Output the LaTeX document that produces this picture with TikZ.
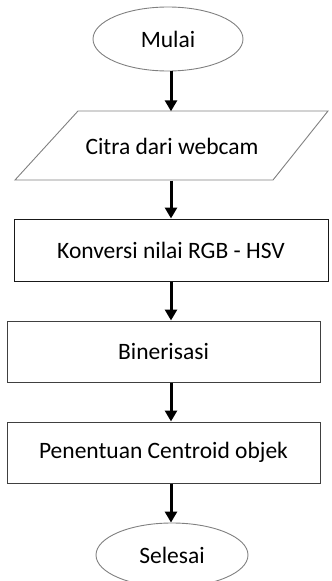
\documentclass[tikz,border=0pt]{standalone}
\usepackage{fontspec}
\setmainfont{Carlito}
\usetikzlibrary{arrows.meta,shapes.geometric}
\begin{document}
\begin{tikzpicture}[x=1pt,y=1pt,
  every node/.style={font=\fontsize{23.5}{28}\selectfont},
  term/.style={ellipse,draw=black!50,line width=0.9pt,inner sep=0pt,minimum width=150pt,minimum height=64pt},
  procbox/.style={rectangle,draw=black!75,line width=1pt,inner sep=0pt,minimum width=313pt,minimum height=61pt},
  iotext/.style={inner sep=0pt,minimum width=200pt,minimum height=69pt},
  arr/.style={line width=3pt,-{Triangle[width=12pt,length=11pt]}}]
\useasboundingbox (0,0) rectangle (332,-581);
\coordinate (ax) at (171,0);
\node[term] (mulai) at (168,-39) {Mulai};
\draw[draw=black!50,line width=0.9pt] (78,-111) -- (328,-111) -- (273,-180) -- (15,-180) -- cycle;
\node[iotext] (citra) at (172,-146) {Citra dari webcam};
\node[procbox,minimum width=314pt,minimum height=62pt,draw=black!90] (konv) at (171,-250) {Konversi nilai RGB - HSV};
\node[procbox] (bin) at (163.5,-351.5) {Binerisasi};
\node[procbox] (pen) at (163.5,-452.5) {Penentuan Centroid objek};
\node[term,minimum width=152pt] (sel) at (172,-555) {Selesai};
\draw[arr] (mulai.south -| ax) -- (citra.north -| ax);
\draw[arr] (citra.south -| ax) -- (konv.north -| ax);
\draw[arr] (konv.south -| ax) -- (bin.north -| ax);
\draw[arr] (bin.south -| ax) -- (pen.north -| ax);
\draw[arr] (pen.south -| ax) -- (sel.north -| ax);
\end{tikzpicture}
\end{document}
